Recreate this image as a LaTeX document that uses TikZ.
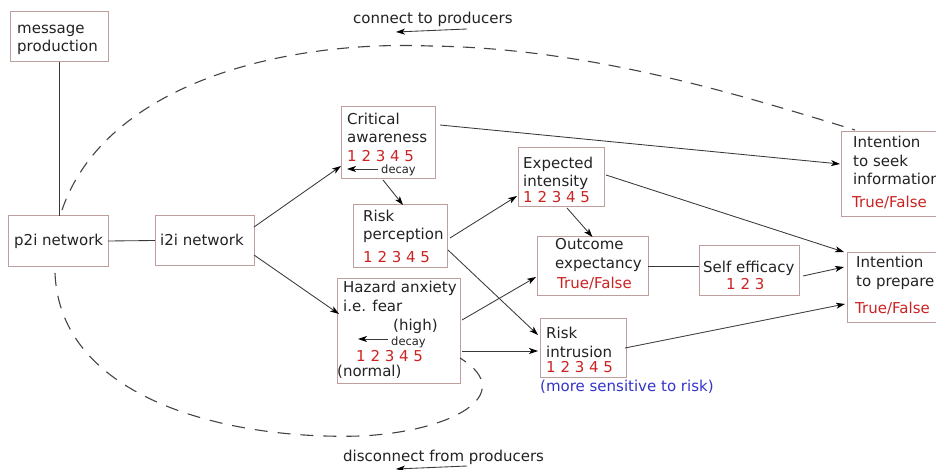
\documentclass[tikz,border=0pt]{standalone}
\usepackage{fontspec}
\setmainfont{DejaVu Sans}
\usetikzlibrary{calc,arrows.meta}

\definecolor{boxline}{HTML}{BF9E9E}
\definecolor{numred}{HTML}{CC2222}
\definecolor{sensblue}{HTML}{3333CC}
\definecolor{ink}{HTML}{222222}

\begin{document}
\begin{tikzpicture}[x=1pt,y=-1pt,
    box/.style={draw=boxline,line width=1pt,inner sep=0pt,outer sep=0pt,anchor=north west},
    txt/.style={anchor=base west,inner sep=0pt,align=left,text=ink,font=\fontsize{15}{18.7}\selectfont},
    num/.style={txt,text=numred},
    tinytxt/.style={txt,font=\fontsize{11.5}{13}\selectfont},
    link/.style={draw=ink!90,line width=0.85pt},
    arr/.style={link,-{Stealth[length=9pt,width=6pt,inset=2.5pt,color=black]}},
    loopline/.style={draw=ink!85,line width=1.1pt,dash pattern=on 12pt off 9pt}]

\useasboundingbox (0,0) rectangle (936,470);

% === Producers side ===
% (multi-line texts are placed by the baseline of their last line)
\node[box,minimum width=98,minimum height=50] (msg) at (10,12) {};
\node[txt] (msgT) at (17,52) {message\\production};

\node[box,minimum width=100,minimum height=50] (p2i) at (8,216) {};
\node[txt] (p2iT) at (14,246) {p2i network};

\node[box,minimum width=99,minimum height=49] (i2i) at (155,216) {};
\node[txt] (i2iT) at (160,246) {i2i network};

\draw[link] (msg.south) -- (msg.south |- p2i.north);
\draw[link] (p2i.east) -- (i2i.west);

% === Middle column ===
% Critical awareness
\node[box,minimum width=94,minimum height=72] (crit) at (341,107) {};
\node[txt] (critT) at (347,143) {Critical\\awareness};
\node[num] (critN) at (347,162) {1 2 3 4 5};
\node[tinytxt] (critD) at (381,174) {decay};
\coordinate (critDE) at (347,169);
\draw[arr] (critD.west |- critDE) ++(-3,0) -- (critDE);

% Risk perception
\node[box,minimum width=94,minimum height=62] (riskp) at (353,205) {};
\node[txt] (riskpT) at (363,240) {Risk\\perception};
\node[num] (riskpN) at (363,262) {1 2 3 4 5};

% Hazard anxiety
\node[box,minimum width=123,minimum height=105] (hazard) at (337,278) {};
\node[txt] (hazardT) at (343,311) {Hazard anxiety\\i.e. fear};
\node[txt] (hazardH) at (393,330) {(high)};
\node[tinytxt] (hazardD) at (391,345) {decay};
\coordinate (hazardDE) at (358,339);
\draw[arr] (hazardD.west |- hazardDE) ++(-3,0) -- (hazardDE);
\node[num] (hazardN) at (356,361) {1 2 3 4 5};
\node[txt] (hazardL) at (337,376) {(normal)};

% === Appraisal column ===
\node[box,minimum width=86,minimum height=59] (expint) at (518,148) {};
\node[txt] (expintT) at (523,187) {Expected\\intensity};
\node[num] (expintN) at (523,203) {1 2 3 4 5};

\node[box,minimum width=111,minimum height=58] (outexp) at (537,237) {};
\node[txt] (outexpT) at (555,268) {Outcome\\expectancy};
\node[num] (outexpN) at (557,288) {True/False};

\node[box,minimum width=86,minimum height=59] (intr) at (540,318) {};
\node[txt] (intrT) at (546,357) {Risk\\intrusion};
\node[num] (intrN) at (546,372) {1 2 3 4 5};
\node[txt,text=sensblue] (intrS) at (540,391) {(more sensitive to risk)};

\node[box,minimum width=100,minimum height=49] (selfeff) at (699,246) {};
\node[txt] (selfeffT) at (703,272) {Self efficacy};
\node[num] (selfeffN) at (726,289) {1 2 3};

% === Intentions (cut at the right edge) ===
\node[box,minimum width=110,minimum height=85] (seek) at (841,132) {};
\node[txt] (seekT) at (853,185) {Intention\\to seek\\information};
\node[num] (seekN) at (852,208) {True/False};

\node[box,minimum width=110,minimum height=70] (prep) at (847,252) {};
\node[txt] (prepT) at (856,286) {Intention\\to prepare};
\node[num] (prepN) at (855,313) {True/False};

% === Arrows ===
\draw[arr] ($(i2i.north east)+(0,11)$) -- ($(crit.south west)+(0,-13)$);
\draw[arr] ($(i2i.south east)+(0,-10)$) -- ($(hazard.north west)+(2,36)$);
\draw[arr] ($(crit.south)+(-5,1)$) -- ($(riskp.north)+(3,0)$);
\draw[arr] ($(crit.north east)+(5,18)$) -- ($(seek.north west)+(-1,32)$);
\draw[arr] ($(riskp.north east)+(3,33)$) -- ($(expint.south west)+(-1,-11)$);
\draw[arr] ($(riskp.north east)+(1,45)$) -- ($(intr.north west)+(-2,17)$);
\draw[arr] ($(expint.south)+(6,1)$) -- (outexp.north);
\draw[arr] ($(expint.north east)+(2,27)$) -- ($(prep.north west)+(-3,0)$);
\draw[link] (outexp.east) -- (outexp.east -| selfeff.west);
\draw[arr] ($(selfeff.north east)+(4,30)$) -- ($(prep.north west)+(-3,15)$);
\draw[arr] ($(hazard.north east)+(2,42)$) -- ($(outexp.south west)+(-1,-18)$);
\draw[arr] ($(hazard.north east)+(2,73)$) -- ($(intr.north west)+(-2,33)$);
\draw[arr] ($(intr.north east)+(-1,30)$) -- ($(prep.north west)+(-2,52)$);

% === Feedback loops ===
\draw[loopline] ($(p2i.north)+(4,-6)$) .. controls (105,85) and (280,40) .. (430,46)
    .. controls (590,48) and (740,95) .. ($(seek.north west)+(14,-2)$);
\node[txt] (conT) at (353,24) {connect to producers};
\coordinate (conS) at (467,29);
\coordinate (conE) at (396,32);
\draw[arr] (conS) -- (conE);

\draw[loopline,dash pattern=on 13pt off 10pt] ($(p2i.south)+(-3,7)$) .. controls (60,400) and (230,440) .. (360,436)
    .. controls (450,432) and (520,395) .. ($(hazard.south east)+(0,-25)$);
\node[txt] (disT) at (343,461) {disconnect from producers};
\coordinate (disS) at (467,466);
\coordinate (disE) at (396,469);
\draw[arr] (disS) -- (disE);

\end{tikzpicture}
\end{document}
